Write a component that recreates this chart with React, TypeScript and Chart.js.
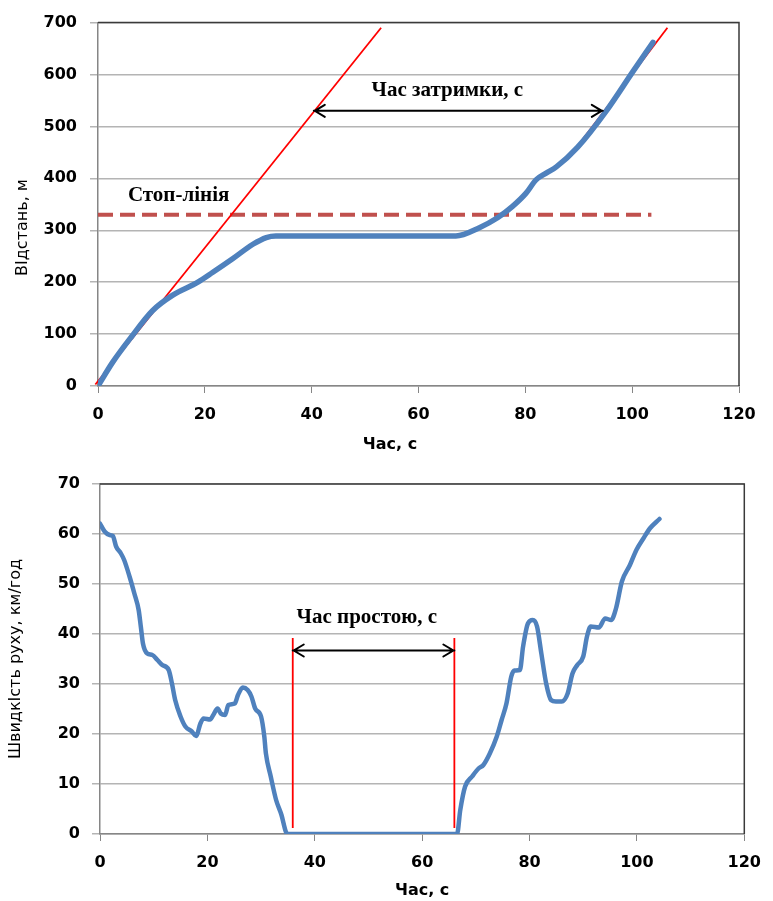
import React, { useEffect, useRef } from 'react';
import { Chart, registerables } from 'chart.js';

Chart.register(...registerables);

// ---------- Data: distance chart ----------
const distTime = [0, 2.7, 6.2, 10.2, 14, 18.7, 21.5, 25.2, 29, 31.5, 33.3, 40, 50, 60, 67, 71.4, 74.8, 77.6, 80.1, 82, 83.9, 85.8, 89.8, 95.1, 100.1, 103.9];
const distValue = [0, 45, 94, 145, 175, 200, 219, 245, 273, 286, 289, 289, 289, 289, 289, 305, 324, 346, 371, 397, 410, 422, 460, 529, 605, 662];

const stopLineTime = [0, 103.6];
const stopLineValue = [330, 330];

const tangent1Time = [-0.5, 53];
const tangent1Value = [3, 690];
const tangent2Time = [90.5, 106.6];
const tangent2Value = [472, 690];

const delayArrowTime = [40.4, 94.5];
const delayArrowValue = 530;

// ---------- Data: speed chart ----------
const speedTime = [
  0, 0.86, 1.8, 2.4, 3.0, 3.9, 4.5, 5.5, 6.4, 7.2, 7.6, 8.0, 8.8, 9.75, 10.7, 11.6, 12.8, 13.4, 14.0, 15.0, 15.9, 17.1, 17.9,
  18.7, 19.3, 20.5, 21.1, 21.9, 22.5, 23.3, 23.9, 25.1, 25.7, 26.6, 27.5, 28.2, 28.9, 30.0, 30.6, 30.9, 31.8, 32.8, 33.8, 34.6, 34.9,
  40, 50, 60, 66.5, 67.1, 68.0, 69.3, 70.5, 71.4, 72.6, 73.9, 74.8, 75.7, 76.6, 77.2, 78.2, 78.8, 79.7, 80.6, 81.4, 82.2, 83.1,
  84.0, 84.9, 86.0, 87.1, 88.0, 88.9, 90.0, 90.7, 91.4, 92.9, 94.1, 95.2, 96.1, 97.2, 98.7, 99.9, 101.2, 102.4, 104.2,
];
const speedValue = [
  62.1, 60.5, 59.8, 59.6, 57.5, 56.1, 54.8, 51.5, 48.1, 44.8, 41.5, 38.1, 36.1, 35.8, 34.8, 33.8, 32.8, 30.1, 26.8, 23.5, 21.5, 20.5, 19.6,
  22.1, 23.1, 22.9, 23.8, 25.1, 24.1, 23.8, 25.8, 26.1, 27.8, 29.3, 28.8, 27.5, 25.1, 23.5, 19.5, 16.1, 11.5, 6.8, 3.8, 0.5, 0,
  0, 0, 0, 0, 4.8, 9.5, 11.5, 13.1, 13.8, 16.1, 19.5, 22.8, 26.1, 31.5, 32.7, 32.8, 37.5, 42.1, 42.8, 41.5, 36.1, 30.1,
  26.8, 26.5, 26.5, 28.1, 32.1, 33.8, 35.5, 39.5, 41.5, 41.3, 43.1, 42.8, 45.1, 50.5, 53.8, 56.8, 59.1, 61.1, 63.0,
];

const idleStartTime = 35.9;
const idleEndTime = 66.0;
const idleLineValue = [1.2, 39.2];
const idleArrowValue = 36.7;

// ---------- Tick / axis texts ----------
const xTickStep = 20;
const distTickStep = 100;
const speedTickStep = 10;
const xTitle = 'Час, с';
const distTitle = 'ВІдстань, м';
const speedTitle = 'ШвидкІсть руху, км/год';
const stopLabel = 'Стоп-лінія';
const delayLabel = 'Час затримки, с';
const idleLabel = 'Час простою, с';

const pts = (xs: number[], ys: number[]) => xs.map((x, i) => ({ x, y: ys[i] }));

const BLUE = '#4F81BD';
const RED = '#FF0000';
const tickFont = { family: '"DejaVu Sans", sans-serif', size: 16, weight: 'bold' as const };
const annFont = 'bold 21px "Liberation Serif", serif';

function drawArrow(ctx: CanvasRenderingContext2D, x1: number, x2: number, y: number) {
  ctx.save();
  ctx.strokeStyle = '#000';
  ctx.lineWidth = 2;
  ctx.lineCap = 'round';
  ctx.beginPath();
  ctx.moveTo(x1, y);
  ctx.lineTo(x2, y);
  ctx.moveTo(x1 + 11, y - 6);
  ctx.lineTo(x1 + 1, y);
  ctx.lineTo(x1 + 11, y + 6);
  ctx.moveTo(x2 - 11, y - 6);
  ctx.lineTo(x2 - 1, y);
  ctx.lineTo(x2 - 11, y + 6);
  ctx.stroke();
  ctx.restore();
}

function drawFrame(chart: any) {
  const { ctx, chartArea: a } = chart;
  ctx.save();
  ctx.strokeStyle = '#3A3A3A';
  ctx.lineWidth = 1.5;
  ctx.beginPath();
  ctx.moveTo(a.left, a.top);
  ctx.lineTo(a.right, a.top);
  ctx.lineTo(a.right, a.bottom);
  ctx.stroke();
  ctx.restore();
}

const topPlugin = {
  id: 'topAnnotations',
  afterDraw(chart: any) {
    const { ctx } = chart;
    const xs = chart.scales.x;
    const ys = chart.scales.y;
    drawFrame(chart);
    const ay = ys.getPixelForValue(delayArrowValue);
    drawArrow(ctx, xs.getPixelForValue(delayArrowTime[0]), xs.getPixelForValue(delayArrowTime[1]), ay);
    ctx.save();
    ctx.fillStyle = '#000';
    ctx.font = annFont;
    ctx.textAlign = 'center';
    ctx.textBaseline = 'middle';
    ctx.fillText(delayLabel, xs.getPixelForValue(65.4), ys.getPixelForValue(569));
    ctx.fillText(stopLabel, xs.getPixelForValue(15.1), ys.getPixelForValue(367));
    ctx.font = 'bold 16px "DejaVu Sans", sans-serif';
    ctx.fillText(xTitle, 390, 445);
    ctx.translate(23, 227.5);
    ctx.rotate(-Math.PI / 2);
    ctx.font = '16px "DejaVu Sans", sans-serif';
    ctx.fillText(distTitle, 0, 0);
    ctx.restore();
  },
};

const bottomPlugin = {
  id: 'bottomAnnotations',
  afterDraw(chart: any) {
    const { ctx } = chart;
    const xs = chart.scales.x;
    const ys = chart.scales.y;
    drawFrame(chart);
    const ay = ys.getPixelForValue(idleArrowValue);
    drawArrow(ctx, xs.getPixelForValue(idleStartTime), xs.getPixelForValue(idleEndTime), ay);
    ctx.save();
    ctx.fillStyle = '#000';
    ctx.font = annFont;
    ctx.textAlign = 'center';
    ctx.textBaseline = 'middle';
    ctx.fillText(idleLabel, xs.getPixelForValue(49.7), ys.getPixelForValue(43.3));
    ctx.restore();
  },
};

export default function App() {
  const topRef = useRef<HTMLCanvasElement>(null);
  const botRef = useRef<HTMLCanvasElement>(null);

  useEffect(() => {
    const c1 = new Chart(topRef.current!, {
      type: 'line',
      data: {
        datasets: [
          {
            data: pts(distTime, distValue),
            borderColor: BLUE,
            borderWidth: 5.5,
            pointRadius: 0,
            cubicInterpolationMode: 'monotone',
            borderCapStyle: 'round',
            borderJoinStyle: 'round',
          },
          {
            data: pts(tangent1Time, tangent1Value),
            borderColor: RED,
            borderWidth: 1.8,
            pointRadius: 0,
            clip: false,
          },
          {
            data: pts(tangent2Time, tangent2Value),
            borderColor: RED,
            borderWidth: 1.8,
            pointRadius: 0,
            clip: false,
          },
          {
            data: pts(stopLineTime, stopLineValue),
            borderColor: '#C0504D',
            borderWidth: 4,
            borderDash: [15, 7],
            pointRadius: 0,
          },
        ] as any,
      },
      options: {
        responsive: false,
        animation: false,
        devicePixelRatio: 1,
        layout: { padding: { left: 0, top: 17, right: 34, bottom: 0 } },
        plugins: { legend: { display: false }, tooltip: { enabled: false } },
        scales: {
          x: {
            type: 'linear',
            min: 0,
            max: 120,
            ticks: { stepSize: xTickStep, padding: 12, color: '#000', font: tickFont },
            grid: { drawOnChartArea: false, tickLength: 7, color: '#868686' },
            border: { color: '#868686', width: 1.5 },
            afterFit: (s: any) => { s.height = 74; },
          },
          y: {
            type: 'linear',
            min: 0,
            max: 700,
            ticks: { stepSize: distTickStep, padding: 13, color: '#000', font: tickFont },
            grid: { color: '#B4B4B4', tickLength: 8, lineWidth: 1.5 },
            border: { color: '#868686', width: 1.5 },
            afterFit: (s: any) => { s.width = 98; },
          },
        },
      } as any,
      plugins: [topPlugin],
    });

    const c2 = new Chart(botRef.current!, {
      type: 'line',
      data: {
        datasets: [
          {
            data: pts(speedTime, speedValue),
            borderColor: BLUE,
            borderWidth: 4.5,
            pointRadius: 0,
            cubicInterpolationMode: 'monotone',
            borderCapStyle: 'round',
            borderJoinStyle: 'round',
          },
          {
            data: pts([idleStartTime, idleStartTime], idleLineValue),
            borderColor: RED,
            borderWidth: 1.8,
            pointRadius: 0,
          },
          {
            data: pts([idleEndTime, idleEndTime], idleLineValue),
            borderColor: RED,
            borderWidth: 1.8,
            pointRadius: 0,
          },
        ] as any,
      },
      options: {
        responsive: false,
        animation: false,
        devicePixelRatio: 1,
        layout: { padding: { left: 0, top: 24, right: 20, bottom: 0 } },
        plugins: { legend: { display: false }, tooltip: { enabled: false } },
        scales: {
          x: {
            type: 'linear',
            min: 0,
            max: 120,
            ticks: { stepSize: xTickStep, padding: 12, color: '#000', font: tickFont },
            grid: { drawOnChartArea: false, tickLength: 7, color: '#868686' },
            border: { color: '#868686', width: 1.5 },
            title: {
              display: true,
              text: xTitle,
              color: '#000',
              font: { family: '"DejaVu Sans", sans-serif', size: 16, weight: 'bold' },
              padding: { top: 0, bottom: 1 },
            },
            afterFit: (s: any) => { s.height = 67; },
          },
          y: {
            type: 'linear',
            min: 0,
            max: 70,
            ticks: { stepSize: speedTickStep, padding: 12, color: '#000', font: tickFont },
            grid: { color: '#B4B4B4', tickLength: 8, lineWidth: 1.5 },
            border: { color: '#868686', width: 1.5 },
            title: {
              display: true,
              text: speedTitle,
              color: '#000',
              font: { family: '"DejaVu Sans", sans-serif', size: 16 },
              padding: { top: 6, bottom: 0 },
            },
            afterFit: (s: any) => { s.width = 100; },
          },
        },
      } as any,
      plugins: [bottomPlugin],
    });

    return () => {
      c1.destroy();
      c2.destroy();
    };
  }, []);

  return (
    <div style={{ position: 'absolute', left: 0, top: 0, width: 773, height: 901, background: '#fff' }}>
      <canvas ref={topRef} width={773} height={460} style={{ position: 'absolute', left: 0, top: 0, width: 773, height: 460 }} />
      <canvas ref={botRef} width={773} height={441} style={{ position: 'absolute', left: 0, top: 460, width: 773, height: 441 }} />
    </div>
  );
}
